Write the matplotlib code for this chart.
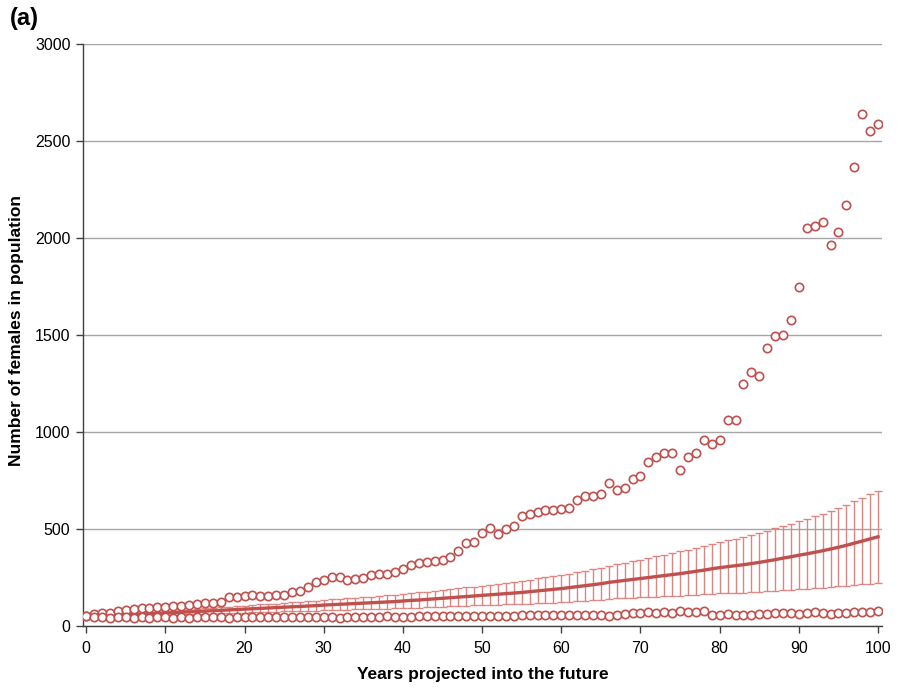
import matplotlib
matplotlib.use("Agg")
import matplotlib.pyplot as plt
import numpy as np

years = list(range(0, 101))

upper_run = [52, 60, 65, 69, 76, 82, 86, 91, 91, 100, 98, 101, 105, 107, 113, 117, 120, 124, 148, 151,
             156, 158, 155, 155, 162, 162, 175, 180, 203, 227, 237, 253, 253, 235, 242, 246, 262, 267, 266, 277,
             292, 313, 323, 328, 337, 340, 354, 385, 428, 435, 479, 503, 473, 502, 514, 567, 576, 588, 598, 600,
             603, 607, 649, 672, 668, 682, 737, 701, 709, 756, 773, 847, 871, 890, 892, 802, 869, 892, 957, 938,
             960, 1062, 1064, 1249, 1311, 1289, 1431, 1493, 1498, 1576, 1746, 2053, 2062, 2084, 1966, 2033, 2172, 2364, 2637, 2552,
             2586]

lower_run = [50, 44, 44, 43, 44, 44, 43, 44, 43, 44, 44, 43, 44, 43, 44, 44, 44, 44, 43, 44,
             44, 44, 44, 45, 44, 44, 45, 44, 44, 45, 44, 46, 42, 47, 47, 48, 49, 48, 50, 48,
             49, 49, 51, 50, 51, 51, 52, 50, 51, 53, 52, 53, 50, 52, 53, 56, 58, 57, 57, 56,
             56, 55, 57, 58, 56, 55, 53, 55, 64, 67, 67, 70, 67, 70, 69, 77, 73, 74, 77, 57,
             57, 60, 57, 57, 57, 60, 63, 67, 67, 65, 63, 65, 74, 65, 62, 67, 69, 70, 72, 74,
             77]

mean_pop = [50, 52, 54, 55, 57, 58, 60, 62, 63, 65, 67, 69, 71, 73, 75, 77, 79, 81, 83, 85,
            87, 89, 91, 93, 95, 97, 99, 101, 103, 105, 108, 110, 112, 114, 116, 118, 120, 122, 124, 126,
            129, 132, 134, 137, 140, 143, 146, 149, 152, 155, 158, 161, 164, 167, 170, 173, 177, 181, 185, 189,
            193, 198, 203, 208, 213, 218, 225, 230, 235, 240, 245, 250, 255, 260, 265, 270, 276, 282, 288, 295,
            301, 306, 311, 316, 322, 328, 335, 342, 350, 357, 365, 372, 380, 388, 397, 406, 416, 427, 438, 449,
            460]

sd_pop = [0, 1, 2, 3, 4, 5, 6, 6, 7, 8, 9, 10, 11, 12, 13, 14, 15, 16, 17, 17,
          18, 19, 20, 21, 21, 22, 23, 24, 25, 26, 27, 28, 29, 30, 30, 31, 32, 33, 34, 35,
          36, 37, 39, 40, 41, 43, 44, 45, 47, 48, 50, 52, 54, 56, 58, 60, 62, 64, 66, 68,
          70, 72, 74, 77, 79, 82, 85, 88, 91, 94, 97, 100, 104, 107, 111, 115, 118, 122, 125, 129,
          132, 136, 140, 144, 148, 152, 156, 161, 165, 170, 175, 180, 185, 190, 195, 200, 208, 216, 223, 231,
          238]

x_ticks = list(range(0, 101, 10))
y_ticks = [0, 500, 1000, 1500, 2000, 2500, 3000]

red = "#C0504D"
bar_col = "#DC8583"

plt.rcParams['font.family'] = ['Liberation Sans', 'DejaVu Sans']

fig = plt.figure(figsize=(8.99, 6.89), dpi=100)
ax = fig.add_axes([0.0923, 0.0914, 0.9811 - 0.0923, 0.9361 - 0.0914])

ax.errorbar(years, mean_pop, yerr=sd_pop, fmt='none', ecolor=bar_col, elinewidth=1.0,
            capsize=3, capthick=1.0, zorder=2)
ax.plot(years, mean_pop, color=red, lw=2.4, zorder=3)
ax.plot(years, upper_run, linestyle='none', marker='o', markersize=6.0, markerfacecolor='white',
        markeredgecolor=red, markeredgewidth=1.2, zorder=4)
ax.plot(years, lower_run, linestyle='none', marker='o', markersize=6.0, markerfacecolor='white',
        markeredgecolor=red, markeredgewidth=1.2, zorder=4)

ax.set_xlim(-0.4, 100.5)
ax.set_ylim(0, 3000)
ax.set_xticks(x_ticks)
ax.set_yticks(y_ticks)
ax.yaxis.grid(True, color='#A6A6A6', lw=1.0)
ax.set_axisbelow(True)
for s in ['top', 'right']:
    ax.spines[s].set_visible(False)
for s in ['left', 'bottom']:
    ax.spines[s].set_color('#404040')
    ax.spines[s].set_linewidth(1.0)
ax.tick_params(axis='both', direction='out', length=5, width=1.0, color='#404040',
               labelsize=11.5, labelcolor='black')
ax.tick_params(axis='x', pad=6)
ax.tick_params(axis='y', pad=4)

ax.set_xlabel('Years projected into the future', fontsize=12.5, fontweight='bold', labelpad=8)
ax.set_ylabel('Number of females in population', fontsize=12.5, fontweight='bold')
ax.yaxis.set_label_coords(-0.074, 0.508)

fig.text(0.011, 0.973, '(a)', fontsize=17, fontweight='bold', va='center', ha='left')

fig.savefig('out.png', dpi=100)
